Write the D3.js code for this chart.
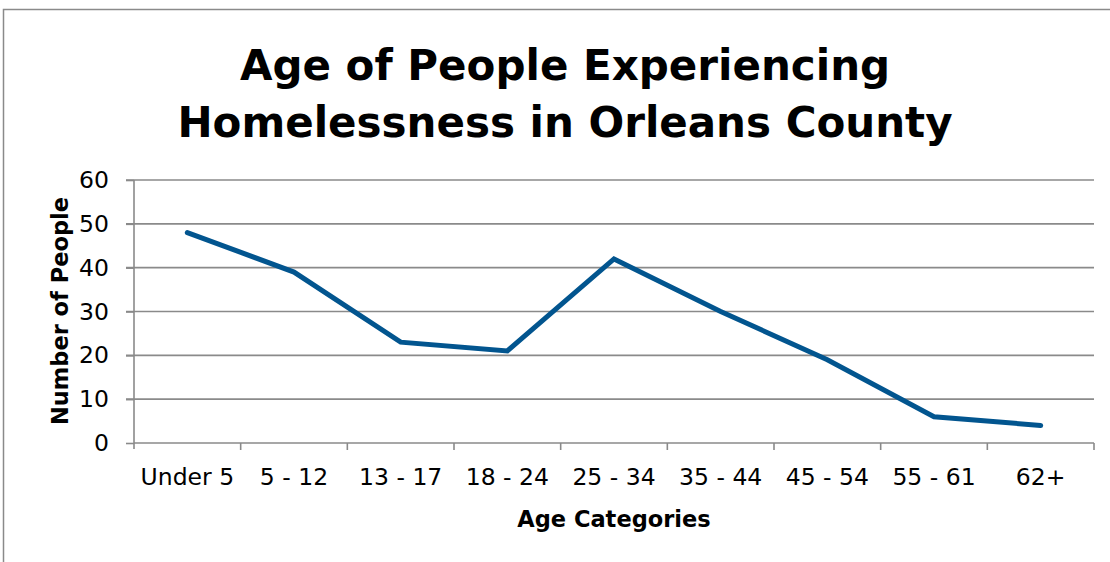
<!DOCTYPE html>
<html><head><meta charset="utf-8">
<script src="https://cdn.jsdelivr.net/npm/d3@7"></script>
<style>body{margin:0;background:#fff;} svg{display:block;}</style>
</head><body>
<svg id="c" width="1110" height="562"></svg>
<script>
const categories = ["Under 5","5 - 12","13 - 17","18 - 24","25 - 34","35 - 44","45 - 54","55 - 61","62+"];
const values = [48, 39, 23, 21, 42, 30, 19, 6, 4];
const yTicks = [0,10,20,30,40,50,60];
const titleLines = ["Age of People Experiencing","Homelessness in Orleans County"];
const yLabel = "Number of People";
const xLabel = "Age Categories";

const svg = d3.select("#c");
const font = "'DejaVu Sans', sans-serif";
const gridColor = "#8a8a8a";

svg.append("rect").attr("x",3.5).attr("y",9.5).attr("width",1200).attr("height",600)
  .attr("fill","none").attr("stroke","#8a8a8a").attr("stroke-width",1.5);

const x0 = 134, x1 = 1094, yTop = 180, yBot = 443;
const x = d3.scaleBand().domain(categories).range([x0,x1]);
const y = d3.scaleLinear().domain([0,60]).range([yBot,yTop]);

// gridlines
svg.append("g").selectAll("line").data(yTicks.filter(d=>d>0)).join("line")
  .attr("x1",126).attr("x2",x1).attr("y1",d=>y(d)).attr("y2",d=>y(d))
  .attr("stroke",gridColor).attr("stroke-width",1.6);

// y axis
const ya = svg.append("g").attr("transform",`translate(${x0},0)`)
  .call(d3.axisLeft(y).tickValues(yTicks).tickSize(8).tickPadding(17));
ya.select(".domain").remove();
ya.selectAll(".tick line").attr("stroke",gridColor).attr("stroke-width",1.6);
ya.selectAll("text").attr("font-family",font).attr("font-size",23.5).attr("fill","#000");
svg.append("line").attr("x1",x0).attr("x2",x0).attr("y1",yTop).attr("y2",yBot+6)
  .attr("stroke",gridColor).attr("stroke-width",1.6);

// x axis
const xa = svg.append("g").attr("transform",`translate(0,${yBot})`)
  .call(d3.axisBottom(x).tickSize(0).tickPadding(25));
xa.select(".domain").remove();
xa.selectAll(".tick line").remove();
xa.selectAll("text").attr("font-family",font).attr("font-size",23.5).attr("fill","#000");
svg.append("line").attr("x1",x0).attr("x2",x1).attr("y1",yBot).attr("y2",yBot)
  .attr("stroke",gridColor).attr("stroke-width",1.6);
svg.append("g").selectAll("line").data(categories).join("line")
  .attr("x1",d=>x(d)+x.bandwidth()).attr("x2",d=>x(d)+x.bandwidth())
  .attr("y1",yBot).attr("y2",yBot+7).attr("stroke",gridColor).attr("stroke-width",1.6);

// line
const line = d3.line().x((d,i)=>x(categories[i])+x.bandwidth()/2).y(d=>y(d));
svg.append("path").datum(values).attr("d",line).attr("fill","none")
  .attr("stroke","#02558f").attr("stroke-width",5).attr("stroke-linejoin","miter")
  .attr("stroke-linecap","round");

// title
svg.append("g").selectAll("text").data(titleLines).join("text")
  .attr("x",565).attr("y",(d,i)=>80+i*57).attr("text-anchor","middle")
  .attr("font-family",font).attr("font-weight","bold").attr("font-size",42).attr("fill","#000")
  .text(d=>d);

svg.append("text").attr("transform","translate(68,311) rotate(-90)").attr("text-anchor","middle")
  .attr("font-family",font).attr("font-weight","bold").attr("font-size",22.5).text(yLabel);
svg.append("text").attr("x",614).attr("y",527).attr("text-anchor","middle")
  .attr("font-family",font).attr("font-weight","bold").attr("font-size",22.5).text(xLabel);
</script>
</body></html>
